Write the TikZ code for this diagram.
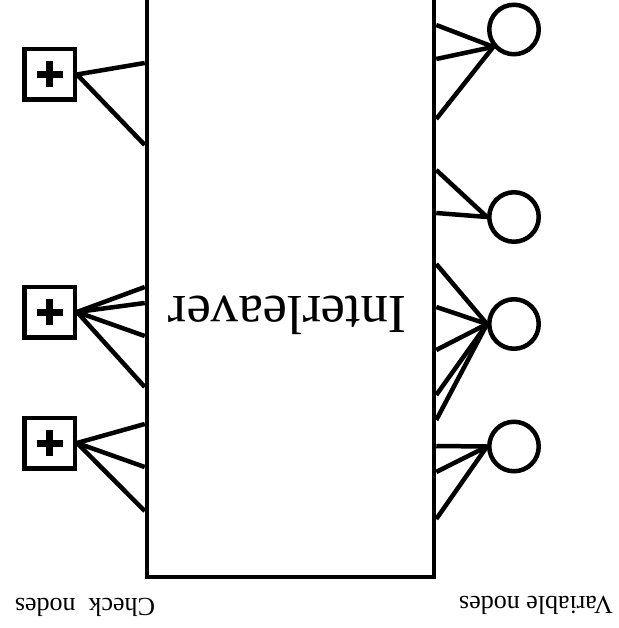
\documentclass[tikz,border=0pt]{standalone}
\usepackage{fontspec}
\setmainfont{Liberation Serif}
\usetikzlibrary{positioning}

\begin{document}
\begin{tikzpicture}[x=1pt,y=-1pt,line width=4.5pt,
  check node/.style={rectangle,draw,minimum size=50.5pt,inner sep=0pt,
    path picture={\draw[line width=7pt]
      ([xshift=-13pt]path picture bounding box.center) -- ([xshift=13pt]path picture bounding box.center)
      ([yshift=-13pt]path picture bounding box.center) -- ([yshift=13pt]path picture bounding box.center);}},
  var node/.style={circle,draw,minimum size=49.5pt,inner sep=0pt},
  upside text/.style={rotate=180,anchor=base,inner sep=0pt}]

\useasboundingbox (0,0) rectangle (618,628);
\clip (0,0) rectangle (618,628);

\node[draw,rectangle,minimum width=287pt,minimum height=597pt] (il) at (290.5,278.5) {};
\node[upside text,font=\fontsize{55}{60}\selectfont] (iltext) at (287.5,296) {Interleaver};

\node[check node] (c1) at (49.5,74.5) {};
\node[check node] (c2) at (49.5,312) {};
\node[check node] (c3) at (49.5,443) {};

\node[var node] (v1) at (514,29.5) {};
\node[var node] (v2) at (514,217) {};
\node[var node] (v3) at (514,324) {};
\node[var node] (v4) at (514,446.5) {};

\node[upside text,font=\fontsize{26}{30}\selectfont] (cl) at (85,598) {Check\ \ nodes};
\node[upside text,font=\fontsize{26}{30}\selectfont] (vl) at (536,596) {Variable nodes};

\path (c1.east) edge (il.west |- 0,63)
      (c1.east) edge (il.west |- 0,145)
      (c2.east) edge (il.west |- 0,287)
      (c2.east) edge (il.west |- 0,303)
      (c2.east) edge (il.west |- 0,336)
      (c2.east) edge (il.west |- 0,387)
      (c3.east) edge (il.west |- 0,424)
      (c3.east) edge (il.west |- 0,467)
      (c3.east) edge (il.west |- 0,511);

\path (v1.220) edge (il.east |- 0,25)
      (v1.220) edge (il.east |- 0,59)
      (v1.220) edge (il.east |- 0,119)
      (v2.west) edge (il.east |- 0,170)
      (v2.west) edge (il.east |- 0,213)
      (v3.west) edge (il.east |- 0,264)
      (v3.west) edge (il.east |- 0,307)
      (v3.west) edge (il.east |- 0,350)
      (v3.west) edge (il.east |- 0,395)
      (v3.west) edge (il.east |- 0,420)
      (v4.west) edge (il.east |- 0,446)
      (v4.west) edge (il.east |- 0,472)
      (v4.west) edge (il.east |- 0,519);
\end{tikzpicture}
\end{document}
